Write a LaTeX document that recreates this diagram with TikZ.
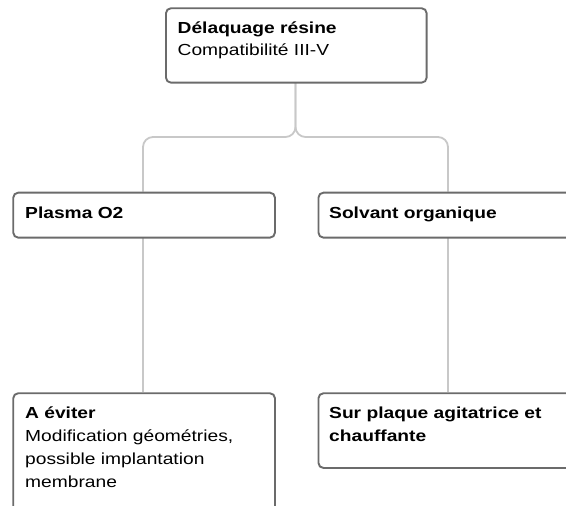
\documentclass[tikz,border=0pt]{standalone}
\usepackage{fontspec}
\setmainfont{Liberation Sans}[FakeStretch=1.2]
\definecolor{boxline}{HTML}{6B6B6B}
\definecolor{connline}{HTML}{C8C8C8}
\tikzset{
  card/.style={draw=boxline, line width=1.9pt, rounded corners=5pt, fill=white, inner sep=0pt, anchor=north west},
  conn/.style={draw=connline, line width=1.8pt, rounded corners=10pt},
  txt/.style={anchor=base west, inner sep=0pt, font=\fontsize{16}{22}\selectfont, text=black},
  btxt/.style={txt, font=\fontsize{16}{22}\selectfont\bfseries}
}
\begin{document}
\begin{tikzpicture}[x=1pt,y=-1pt]
\useasboundingbox (0,0) rectangle (566,506);
\clip (0,0) rectangle (566,506);
% connectors (drawn first, boxes cover their ends)
\coordinate (fork) at (295.5,137);
\coordinate (topS) at (295.5,81.7);
\coordinate (plN) at (143,191.7);
\coordinate (plS) at (143,236.7);
\coordinate (soN) at (448,191.7);
\coordinate (soS) at (448,236.7);
\coordinate (evN) at (143,392.3);
\coordinate (saN) at (448,392.3);
\draw[conn] (topS) -- (fork) -| (plN);
\draw[conn] (topS) -- (fork) -| (soN);
\draw[conn] (plS) -- (evN);
\draw[conn] (soS) -- (saN);
% boxes
\node[card, minimum width=260.7pt, minimum height=74.4pt] (top) at (165,7.3) {};
\node[card, minimum width=261.7pt, minimum height=45pt] (plasma) at (12.3,191.7) {};
\node[card, minimum width=261.5pt, minimum height=45pt] (solvant) at (317.5,191.7) {};
\node[card, minimum width=261.7pt, minimum height=130pt] (eviter) at (12.3,392.3) {};
\node[card, minimum width=261.5pt, minimum height=74.7pt] (plaque) at (317.5,392.3) {};
% texts
\node[btxt] (t1) at (177.5,33.6) {Délaquage résine};
\node[txt] (t2) at (177.5,55.6) {Compatibilité III-V};
\node[btxt] (t3) at (25,218) {Plasma O2};
\node[btxt] (t4) at (329,218) {Solvant organique};
\node[btxt] (t5) at (25,418.8) {A éviter};
\node[txt] (t6) at (25,441.6) {Modification géométries,};
\node[txt] (t7) at (25,464.4) {possible implantation};
\node[txt] (t8) at (25,487.2) {membrane};
\node[btxt] (t9) at (329,418.8) {Sur plaque agitatrice et};
\node[btxt] (t10) at (329,441.6) {chauffante};
\end{tikzpicture}
\end{document}
